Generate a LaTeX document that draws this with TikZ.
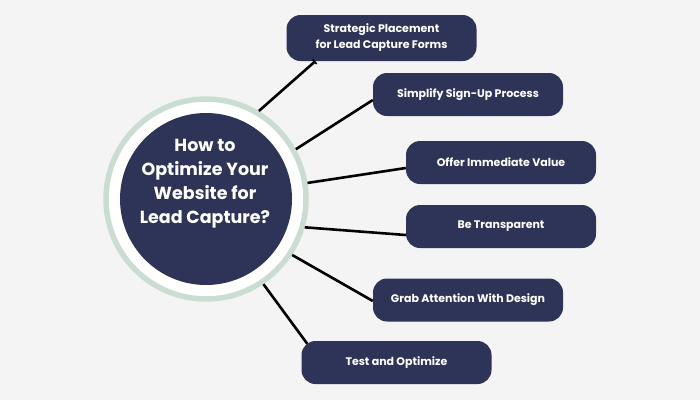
\documentclass[tikz,border=0pt]{standalone}
\usepackage{fontspec}
\setmainfont{Poppins}
\usetikzlibrary{arrows.meta}
\definecolor{navy}{HTML}{2E3457}
\definecolor{ringgruen}{HTML}{C9DDD3}
\definecolor{hintergrund}{HTML}{F4F4F5}

\begin{document}
\begin{tikzpicture}[x=1pt,y=-1pt,
    kasten/.style={fill=navy, text=white, rounded corners=14pt, minimum width=190pt,
      minimum height=43pt, inner sep=0pt, align=center,
      font=\bfseries\fontsize{11}{16}\selectfont},
    linie/.style={line width=2.6pt, black}]

  % Hintergrund
  \fill[hintergrund] (0,0) rectangle (700,400);
  \useasboundingbox (0,0) rectangle (700,400);

  % Kreis in der Mitte
  \node[circle, draw=ringgruen, line width=5.5pt, fill=white, inner sep=0pt,
    minimum size=200pt] (ring) at (206,199) {};
  \node[circle, fill=navy, inner sep=0pt, minimum size=172pt] (hub) at (ring.center) {};
  \node[text=white, align=center, font=\bfseries\fontsize{17.5}{24}\selectfont]
    (frage) at (205,184) {How to\\Optimize Your\\Website for\\Lead Capture?};

  % Kaesten rechts
  \node[kasten, minimum height=46pt] (platz) at (381.5,38) {Strategic Placement\\for Lead Capture Forms};
  \node[kasten] (anmeldung) at (468,94.5) {Simplify Sign-Up Process};
  \node[kasten] (wert) at (501,162.5) {Offer Immediate Value};
  \node[kasten] (transparent) at (501,226.5) {Be Transparent};
  \node[kasten] (design) at (468,300) {Grab Attention With Design};
  \node[kasten] (testen) at (396.5,362.5) {Test and Optimize};

  % Verbindungslinien
  \draw[linie, -{Bar[width=6pt, line width=1.6pt]}] (ring.59.5) -- ([xshift=29pt]platz.south west);
  \draw[linie] (ring.29.8) -- ([yshift=-5.5pt]anmeldung.west);
  \draw[linie] (ring.9) -- ([yshift=-5.5pt]wert.west);
  \draw[linie] (ring.-16.6) -- ([yshift=-8.5pt]transparent.west);
  \draw[linie] (ring.-33) -- ([yshift=-1pt]design.west);
  \draw[linie] (ring.-56.3) -- ([xshift=6pt, yshift=-3pt]testen.north west);

\end{tikzpicture}
\end{document}
